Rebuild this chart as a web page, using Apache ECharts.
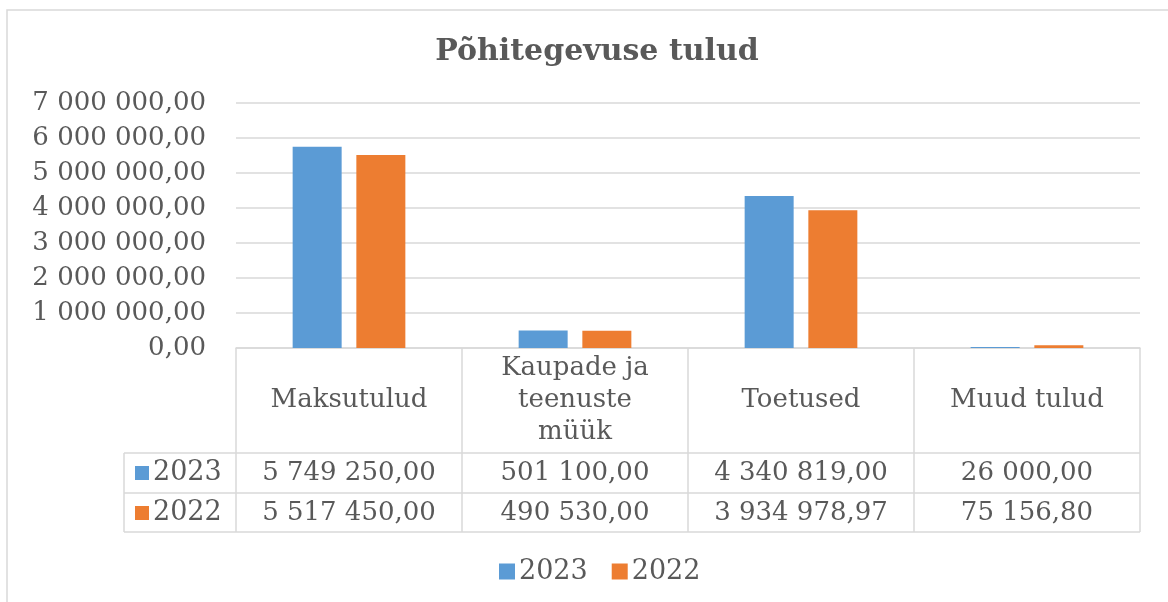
<!DOCTYPE html>
<html>
<head>
<meta charset="utf-8">
<script src="https://cdn.jsdelivr.net/npm/echarts@6/dist/echarts.min.js"></script>
<style>
  html, body { margin: 0; padding: 0; background: #fff; }
  #chart { width: 1168px; height: 602px; }
</style>
</head>
<body>
<div id="chart"></div>
<script>
// data
const categories = ['Maksutulud', 'Kaupade ja\nteenuste\nmüük', 'Toetused', 'Muud tulud'];
const years = ['2023', '2022'];
const values2023 = [5749250.00, 501100.00, 4340819.00, 26000.00];
const values2022 = [5517450.00, 490530.00, 3934978.97, 75156.80];
const yMin = 0;
const yMax = 7000000;
const yStep = 1000000;

const textColor = '#595959';
const lineColor = '#D9D9D9';
const blue = '#5B9BD5';
const orange = '#ED7D31';
const font = 'DejaVu Serif';

// plot area / table layout
const gridLeft = 236, gridRight = 1140, gridTop = 103, gridBottom = 348;
const headerBottom = 453, row1Bottom = 493, row2Bottom = 532, keyLeft = 124;

function fmt(v) {
  const parts = v.toFixed(2).split('.');
  return parts[0].replace(/\B(?=(\d{3})+(?!\d))/g, ' ') + ',' + parts[1];
}

const colW = (gridRight - gridLeft) / categories.length;
const graphic = [];
const line = (x1, y1, x2, y2) => graphic.push({
  type: 'line', silent: true,
  shape: { x1, y1, x2, y2 },
  style: { stroke: lineColor, lineWidth: 1.5 }
});

// outer chart border (runs off right and bottom edges)
graphic.push({
  type: 'rect', silent: true,
  shape: { x: 7, y: 10, width: 1200, height: 640 },
  style: { fill: null, stroke: lineColor, lineWidth: 1.5 }
});

// table grid
for (let i = 0; i <= categories.length; i++) {
  const x = gridLeft + i * colW;
  line(x, gridBottom, x, row2Bottom);
}
line(keyLeft, headerBottom, keyLeft, row2Bottom);
[headerBottom, row1Bottom, row2Bottom].forEach(y => line(keyLeft, y, gridRight, y));

// table rows: legend key + values
const rows = [[years[0], blue, values2023, headerBottom], [years[1], orange, values2022, row1Bottom]];
rows.forEach(([label, color, vals, top]) => {
  const cy = top + 20;
  graphic.push({ type: 'rect', silent: true, shape: { x: 135, y: cy - 7, width: 14, height: 14 }, style: { fill: color } });
  graphic.push({
    type: 'text', silent: true, x: 153, y: cy,
    style: { text: label, font: '27px "' + font + '"', fill: textColor, verticalAlign: 'middle', align: 'left' }
  });
  vals.forEach((v, i) => {
    graphic.push({
      type: 'text', silent: true, x: gridLeft + (i + 0.5) * colW, y: cy,
      style: { text: fmt(v), font: '26px "' + font + '"', fill: textColor, verticalAlign: 'middle', align: 'center' }
    });
  });
});

const chart = echarts.init(document.getElementById('chart'));
chart.setOption({
  backgroundColor: '#fff',
  animation: false,
  title: {
    text: 'Põhitegevuse tulud',
    left: 592, top: 32, textAlign: 'center',
    textStyle: { fontFamily: font, fontSize: 30, fontWeight: 'bold', color: textColor }
  },
  legend: {
    data: years,
    left: 494, top: 553,
    itemWidth: 16, itemHeight: 16, itemGap: 24,
    icon: 'rect',
    textStyle: { fontFamily: font, fontSize: 27, color: textColor, padding: [0, 0, 0, -1] }
  },
  grid: { left: gridLeft, right: 1168 - gridRight, top: gridTop, bottom: 602 - gridBottom, containLabel: false },
  xAxis: {
    type: 'category',
    data: categories,
    axisLine: { show: true, lineStyle: { color: lineColor, width: 1.5 } },
    axisTick: { show: false },
    axisLabel: {
      interval: 0, margin: 52, verticalAlign: 'middle', lineHeight: 32,
      fontFamily: font, fontSize: 26, color: textColor
    }
  },
  yAxis: {
    type: 'value',
    min: yMin, max: yMax, interval: yStep,
    axisLine: { show: false },
    axisTick: { show: false },
    splitLine: { lineStyle: { color: lineColor, width: 1.5 } },
    axisLabel: { margin: 30, fontFamily: font, fontSize: 26, color: textColor, formatter: fmt }
  },
  series: [
    { name: years[0], type: 'bar', data: values2023, barWidth: 49, barGap: '30%', itemStyle: { color: blue } },
    { name: years[1], type: 'bar', data: values2022, barWidth: 49, itemStyle: { color: orange } }
  ],
  graphic: graphic
});
</script>
</body>
</html>
